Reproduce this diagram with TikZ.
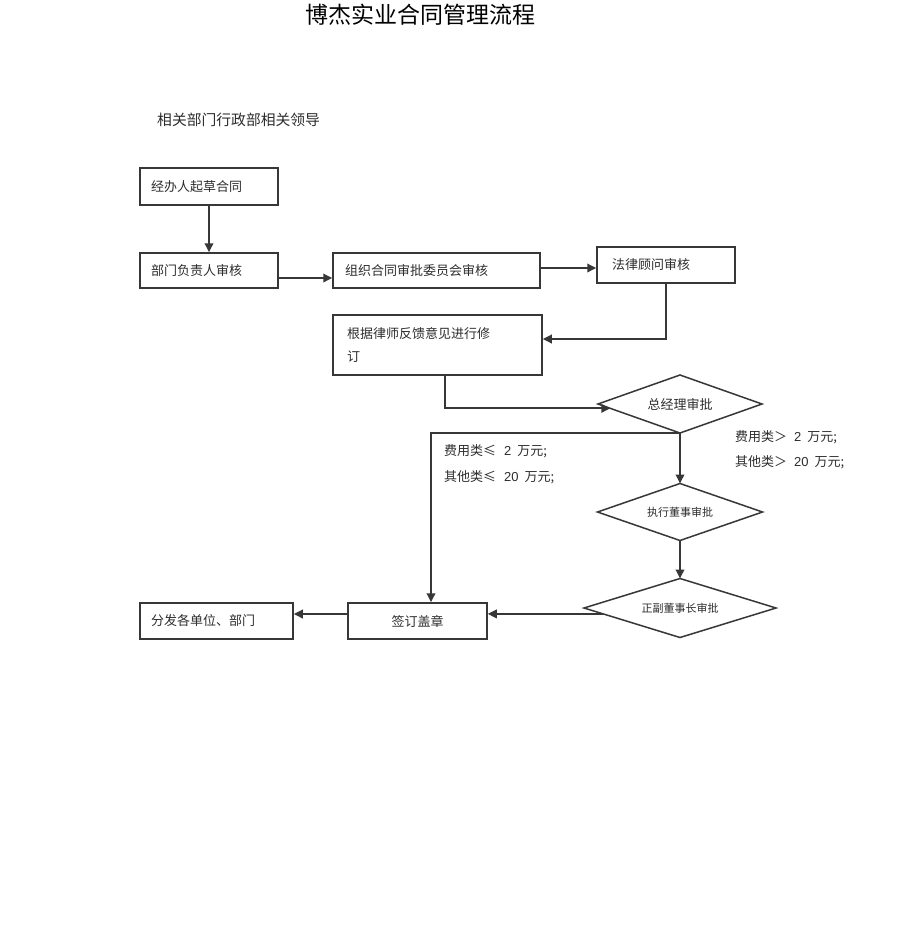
\documentclass[tikz,border=0pt]{standalone}
\usepackage{fontspec}
\setmainfont{Noto Sans CJK SC}
\newfontfamily\latin{Liberation Sans}
\usetikzlibrary{arrows.meta,calc}
\definecolor{ln}{RGB}{55,55,55}
\definecolor{tx}{RGB}{45,45,45}
\tikzset{
 box/.style={draw=ln, line width=1.5pt, rectangle, inner xsep=11pt, inner ysep=0pt, align=left, font=\fontsize{13}{16}\selectfont, text=tx},
 diatext/.style={inner sep=0pt, text=tx},
 diaedge/.style={draw=ln, line width=1.5pt, line join=miter},
 arr/.style={draw=ln, line width=1.8pt, -{Triangle[length=9pt,width=8.5pt]}},
 lab/.style={anchor=west, font=\fontsize{13}{16}\selectfont, text=tx, inner sep=0pt}
}
\newcommand{\mydiamond}[3]{% name, half width, half height
  \coordinate (#1n) at ($(#1)+(0,-#3)$);
  \coordinate (#1s) at ($(#1)+(0,#3)$);
  \coordinate (#1w) at ($(#1)+(-#2,0)$);
  \coordinate (#1e) at ($(#1)+(#2,0)$);
  \draw[diaedge] (#1n) -- (#1e) -- (#1s) -- (#1w) -- cycle;
}
\begin{document}
\begin{tikzpicture}[x=1pt,y=-1pt]
\useasboundingbox (0,0) rectangle (920,948);
\fill[white] (0,0) rectangle (920,948);

\node[inner sep=0pt, font=\fontsize{23}{23}\selectfont] (title) at (420,15) {博杰实业合同管理流程};
\node[anchor=west, inner sep=0pt, font=\fontsize{14.8}{16}\selectfont, text=tx] (sub) at (157,120) {相关部门行政部相关领导};

\node[box, text width=116pt, minimum height=37pt] (A) at (209,186.5) {经办人起草合同};
\node[box, text width=116pt, minimum height=35pt] (B) at (209,270.5) {部门负责人审核};
\node[box, inner xsep=12pt, text width=183pt, minimum height=35pt] (C) at (436.5,270.5) {组织合同审批委员会审核};
\node[box, inner xsep=15pt, text width=108pt, minimum height=36pt] (D) at (666,265) {法律顾问审核};
\node[box, inner xsep=14pt, text width=181pt, minimum height=60pt, font=\fontsize{13}{23}\selectfont] (E) at (437.5,345) {根据律师反馈意见进行修\\订};

\node[diatext, font=\fontsize{13}{16}\selectfont] (F) at (680,404) {总经理审批};
\mydiamond{F}{82}{29}
\node[diatext, font=\fontsize{11}{14}\selectfont] (G) at (680,512) {执行董事审批};
\mydiamond{G}{82.5}{28.5}
\node[diatext, font=\fontsize{11}{14}\selectfont] (H) at (680,608) {正副董事长审批};
\mydiamond{H}{96}{29.5}

\node[box, align=center, text width=117pt, minimum height=36pt] (I) at (417.5,621) {签订盖章};
\node[box, text width=131pt, minimum height=36pt] (J) at (216.5,621) {分发各单位、部门};

\node[lab] (l1) at (735,437) {费用类＞\hspace{7pt}{\latin 2}\hspace{6pt}万元;};
\node[lab] (l2) at (735,462) {其他类＞\hspace{7pt}{\latin 20}\hspace{6pt}万元;};
\node[lab] (l3) at (444,451) {费用类≤\hspace{8pt}{\latin 2}\hspace{6pt}万元;};
\node[lab] (l4) at (444,477) {其他类≤\hspace{8pt}{\latin 20}\hspace{6pt}万元;};

\draw[arr] (A) -- (B);
\draw[arr] ($(B.east)+(0,7.5)$) -- ($(C.west)+(0,7.5)$);
\draw[arr] ($(C.east)+(0,-2.5)$) -- ($(D.west)+(0,3)$);
\draw[arr] (D.south) |- ($(E.east)+(0,-6)$);
\coordinate (fe) at ($(Fw)!0.15!(Fs)$);
\draw[arr] ($(E.south)+(7.5,0)$) |- (fe);
\draw[arr] (Fs) -- (Gn);
\draw[arr] (Fs) -| ($(I.north)+(13.5,0)$);
\draw[arr] (Gs) -- (Hn);
\coordinate (hs) at ($(Hw)!0.2!(Hs)$);
\draw[arr] (hs) -- (hs -| I.east);
\draw[arr] ($(I.west)+(0,-7)$) -- ($(J.east)+(0,-7)$);
\end{tikzpicture}
\end{document}
